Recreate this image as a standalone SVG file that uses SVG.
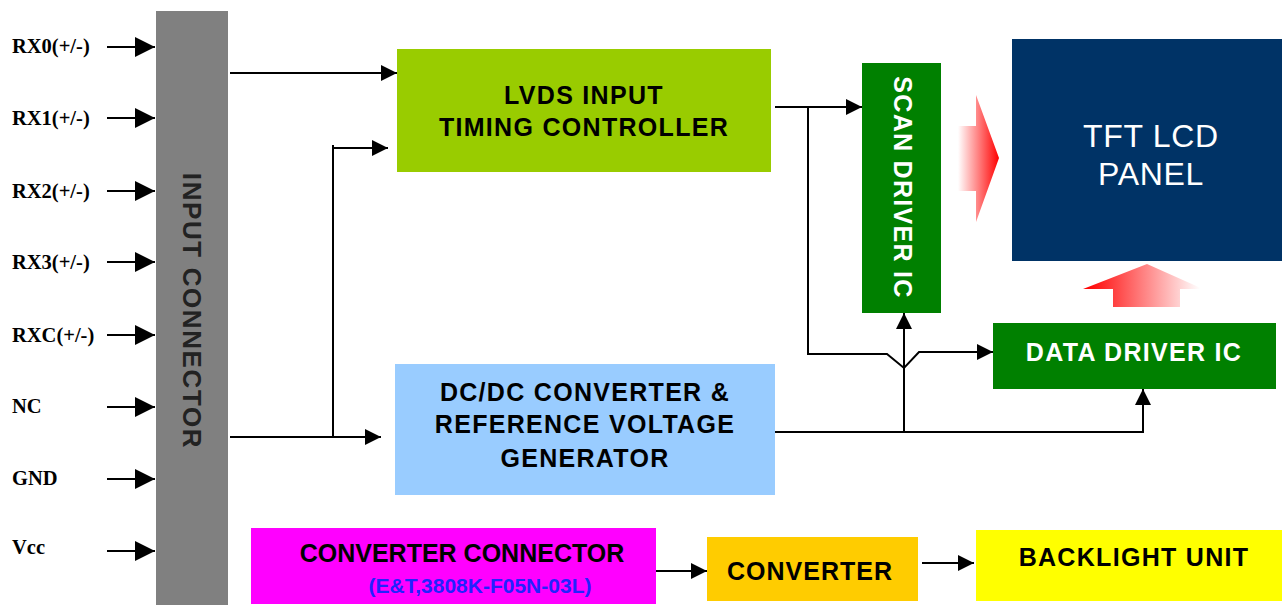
<svg xmlns="http://www.w3.org/2000/svg" width="1282" height="605" viewBox="0 0 1282 605">
<style>
.lbl{font-family:"Liberation Serif","Times New Roman",serif;font-weight:bold;font-size:20.5px;fill:#000}
.bx{font-family:"Liberation Sans",Arial,sans-serif;font-weight:bold;font-size:25px;letter-spacing:1.3px;text-anchor:middle;fill:#000}
.w{fill:#fff}
.ln{fill:none;stroke:#000;stroke-width:2}
</style>
<defs>
<marker id="ah" viewBox="0 0 16 16" markerWidth="16" markerHeight="16" refX="16" refY="8" orient="auto" markerUnits="userSpaceOnUse"><path d="M0,0 L16,8 L0,16 z" fill="#000"/></marker>
<marker id="ahb" viewBox="0 0 20 20" markerWidth="20" markerHeight="20" refX="20" refY="10" orient="auto" markerUnits="userSpaceOnUse"><path d="M0,0 L20,10 L0,20 z" fill="#000"/></marker>
<linearGradient id="gr" gradientUnits="userSpaceOnUse" x1="958" y1="0" x2="999" y2="0"><stop offset="0" stop-color="#ffffff"/><stop offset="1" stop-color="#ff0000"/></linearGradient>
<linearGradient id="gu" gradientUnits="userSpaceOnUse" x1="1085" y1="0" x2="1200" y2="0"><stop offset="0" stop-color="#ff0000"/><stop offset="1" stop-color="#ffffff"/></linearGradient>
</defs>
<rect width="1282" height="605" fill="#fff"/>

<g id="input-labels">
<text class="lbl" x="12" y="53">RX0(+/-)</text>
<text class="lbl" x="12" y="125">RX1(+/-)</text>
<text class="lbl" x="12" y="198">RX2(+/-)</text>
<text class="lbl" x="12" y="269">RX3(+/-)</text>
<text class="lbl" x="12" y="342">RXC(+/-)</text>
<text class="lbl" x="12" y="413">NC</text>
<text class="lbl" x="12" y="485">GND</text>
<text class="lbl" x="12" y="554">Vcc</text>
</g>

<g id="input-connector">
<rect x="156" y="11" width="72" height="594" fill="#808080"/>
<text class="bx" style="font-size:26px;letter-spacing:1.6px;fill:#222" transform="translate(192,311) rotate(90)" x="0" y="9.5">INPUT CONNECTOR</text>
</g>

<g id="lvds">
<rect x="397" y="49" width="374" height="123" fill="#99cc00"/>
<text class="bx" x="584" y="104">LVDS INPUT</text>
<text class="bx" x="584" y="136">TIMING CONTROLLER</text>
</g>

<g id="dcdc">
<rect x="395" y="364" width="380" height="131" fill="#99ccff"/>
<text class="bx" x="585" y="401">DC/DC CONVERTER &amp;</text>
<text class="bx" x="585" y="433">REFERENCE VOLTAGE</text>
<text class="bx" x="585" y="467">GENERATOR</text>
</g>

<g id="scan-driver">
<rect x="862" y="63" width="79" height="250" fill="#008000"/>
<text class="bx w" transform="translate(903,187.5) rotate(90)" x="0" y="9.5">SCAN DRIVER IC</text>
</g>

<g id="tft-panel">
<rect x="1012" y="39" width="270" height="222" fill="#003366"/>
<text x="1151" y="147" text-anchor="middle" style="font-family:'Liberation Sans',Arial,sans-serif;font-size:32px;letter-spacing:0.7px" fill="#fff">TFT LCD</text>
<text x="1151" y="185" text-anchor="middle" style="font-family:'Liberation Sans',Arial,sans-serif;font-size:32px;letter-spacing:0.7px" fill="#fff">PANEL</text>
</g>

<g id="data-driver">
<rect x="993" y="323" width="283" height="66" fill="#008000"/>
<text class="bx w" x="1134" y="361">DATA DRIVER IC</text>
</g>

<g id="converter-connector">
<rect x="251" y="528" width="405" height="76" fill="#ff00ff"/>
<text class="bx" style="letter-spacing:0" x="462" y="562">CONVERTER CONNECTOR</text>
<text class="bx" style="letter-spacing:0;font-size:21px;fill:#2222ff" x="480" y="593">(E&amp;T,3808K-F05N-03L)</text>
</g>

<g id="converter">
<rect x="707" y="537" width="211" height="64" fill="#ffcc00"/>
<text class="bx" style="letter-spacing:1px" x="810" y="580">CONVERTER</text>
</g>

<g id="backlight">
<rect x="976" y="530" width="306" height="71" fill="#ffff00"/>
<text class="bx" x="1134" y="566">BACKLIGHT UNIT</text>
</g>

<g id="flow-arrows">
<polygon points="958,126 976,126 976,95 999,158 976,222 976,191 958,191" fill="url(#gr)"/>
<polygon points="1113,307 1113,289 1083,289 1147,264 1203,289 1180,289 1180,307" fill="url(#gu)"/>
</g>

<g id="connectors">
<path class="ln" d="M107,47 H155" marker-end="url(#ahb)"/>
<path class="ln" d="M107,118 H155" marker-end="url(#ahb)"/>
<path class="ln" d="M107,191 H155" marker-end="url(#ahb)"/>
<path class="ln" d="M107,262 H155" marker-end="url(#ahb)"/>
<path class="ln" d="M107,335 H155" marker-end="url(#ahb)"/>
<path class="ln" d="M107,407 H155" marker-end="url(#ahb)"/>
<path class="ln" d="M107,479 H155" marker-end="url(#ahb)"/>
<path class="ln" d="M107,551 H155" marker-end="url(#ahb)"/>
<path class="ln" d="M230,73 H397" marker-end="url(#ah)"/>
<path class="ln" d="M333,436 V145"/>
<path class="ln" d="M333,148 H388" marker-end="url(#ah)"/>
<path class="ln" d="M230,437 H381" marker-end="url(#ah)"/>
<path class="ln" d="M775,107 H862" marker-end="url(#ah)"/>
<path class="ln" d="M808,107 V354 H887 L904,368 L919,352 H993" marker-end="url(#ah)"/>
<path class="ln" d="M775,432 H1143 V389" marker-end="url(#ah)"/>
<path class="ln" d="M904,432 V313" marker-end="url(#ah)"/>
<path class="ln" d="M656,571 H707" marker-end="url(#ah)"/>
<path class="ln" d="M922,563 H974" marker-end="url(#ah)"/>
</g>
</svg>
